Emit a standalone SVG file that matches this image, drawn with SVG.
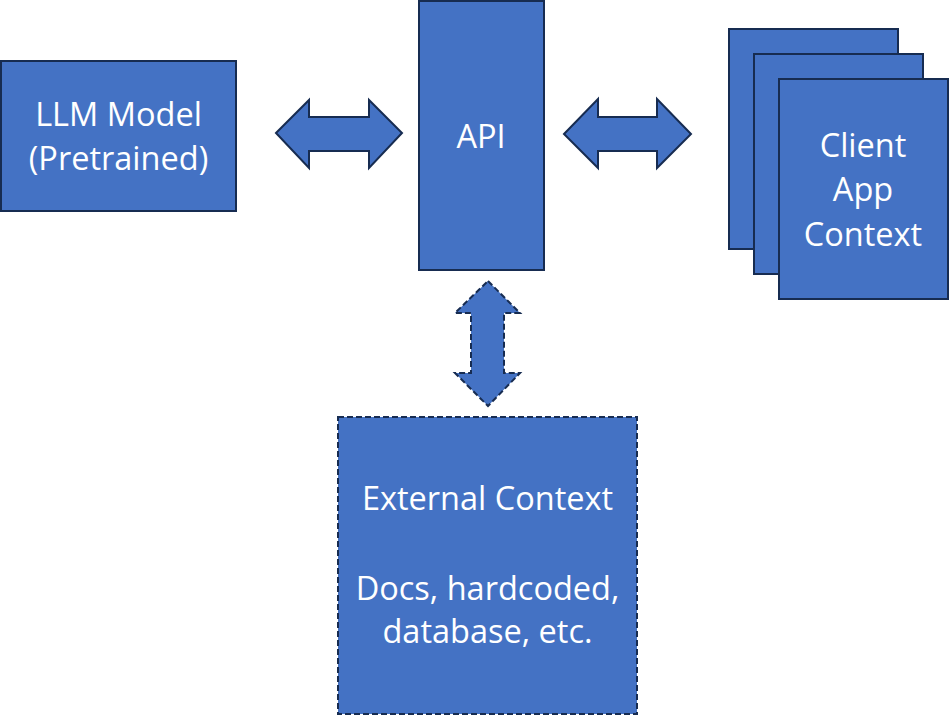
<svg xmlns="http://www.w3.org/2000/svg" width="949" height="715" viewBox="0 0 949 715">
<style>
.box{fill:#4472C4;stroke:#172C51;stroke-width:2}
.dash{stroke-dasharray:6 3}
.t{fill:#fff;font-family:"Open Sans","Noto Sans","DejaVu Sans",sans-serif;font-size:32.5px;text-anchor:middle}
</style>
<rect width="949" height="715" fill="#fff"/>
<g id="connectors">
<polygon class="box" points="276,133 309,100 309,117 369,117 369,100 402,133 369,168 369,151 309,151 309,168"/>
<polygon class="box" points="564,134 598,99 598,117 657,117 657,99 691,134 657,168 657,151 598,151 598,168"/>
<polygon class="box dash" points="488,281 520,313 504,313 504,373 520,373 488,406 455,373 471,373 471,313 455,313"/>
</g>
<g id="llm">
<rect class="box" x="1" y="61" width="235" height="150"/>
<text class="t" x="118.5" y="126">LLM Model</text>
<text class="t" x="118.5" y="170">(Pretrained)</text>
</g>
<g id="api">
<rect class="box" x="419" y="1" width="125" height="269"/>
<text class="t" x="481" y="148">API</text>
</g>
<g id="client">
<rect class="box" x="729" y="29" width="169" height="220"/>
<rect class="box" x="754" y="54" width="169" height="220"/>
<rect class="box" x="779" y="79" width="169" height="220"/>
<text class="t" x="863" y="157">Client</text>
<text class="t" x="863" y="201">App</text>
<text class="t" x="863" y="246">Context</text>
</g>
<g id="external">
<rect class="box dash" x="338" y="417" width="299" height="297"/>
<text class="t" x="487.5" y="510">External Context</text>
<text class="t" x="487.5" y="600">Docs, hardcoded,</text>
<text class="t" x="487.5" y="643">database, etc.</text>
</g>
</svg>
